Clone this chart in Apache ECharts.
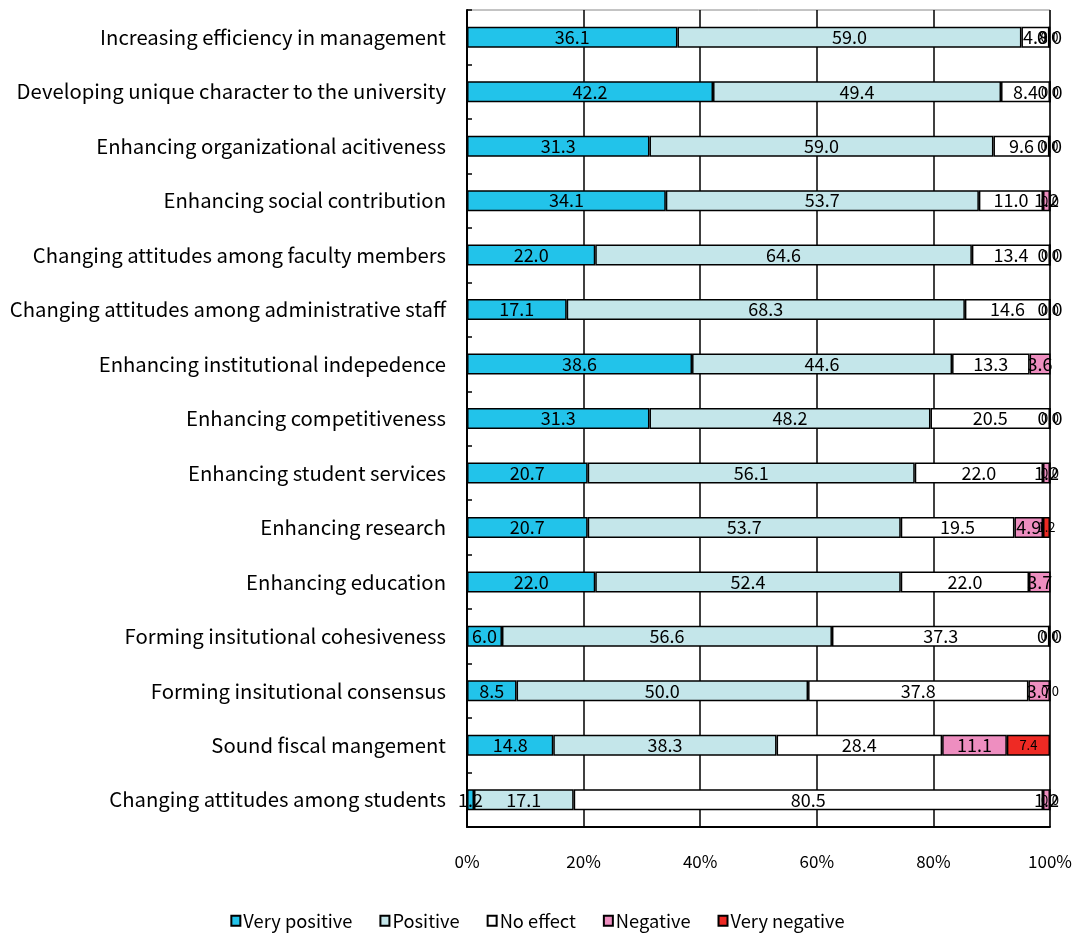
<!DOCTYPE html>
<html>
<head>
<meta charset="utf-8">
<script src="https://cdn.jsdelivr.net/npm/echarts@6/dist/echarts.min.js"></script>
<style>
  html, body { margin: 0; padding: 0; background: #fff; }
  #chart { width: 1075px; height: 933px; }
</style>
</head>
<body>
<div id="chart"></div>
<script>
// Survey items, listed top to bottom
const categories = [
  'Increasing efficiency in management',
  'Developing unique character to the university',
  'Enhancing organizational acitiveness',
  'Enhancing social contribution',
  'Changing attitudes among faculty members',
  'Changing attitudes among administrative staff',
  'Enhancing institutional indepedence',
  'Enhancing competitiveness',
  'Enhancing student services',
  'Enhancing research',
  'Enhancing education',
  'Forming insitutional cohesiveness',
  'Forming insitutional consensus',
  'Sound fiscal mangement',
  'Changing attitudes among students'
];

// Share of responses (%) per answer
const veryPositive = [36.1, 42.2, 31.3, 34.1, 22.0, 17.1, 38.6, 31.3, 20.7, 20.7, 22.0, 6.0, 8.5, 14.8, 1.2];
const positive     = [59.0, 49.4, 59.0, 53.7, 64.6, 68.3, 44.6, 48.2, 56.1, 53.7, 52.4, 56.6, 50.0, 38.3, 17.1];
const noEffect     = [4.8, 8.4, 9.6, 11.0, 13.4, 14.6, 13.3, 20.5, 22.0, 19.5, 22.0, 37.3, 37.8, 28.4, 80.5];
const negative     = [0.0, 0.0, 0.0, 1.2, 0.0, 0.0, 3.6, 0.0, 1.2, 4.9, 3.7, 0.0, 3.7, 11.1, 1.2];
const veryNegative = [0.0, 0.0, 0.0, 0.0, 0.0, 0.0, 0.0, 0.0, 0.0, 1.2, 0.0, 0.0, 0.0, 7.4, 0.0];

const xTicks = ['0%', '20%', '40%', '60%', '80%', '100%'];

const FONT = '"Noto Sans CJK JP", "Noto Sans", sans-serif';

function makeSeries(name, data, color, labelSize) {
  return {
    name: name,
    type: 'bar',
    stack: 'total',
    data: data,
    barWidth: 21,
    itemStyle: { color: color, borderColor: '#000', borderWidth: 1.5 },
    label: {
      show: true,
      position: 'inside',
      color: '#000',
      fontFamily: FONT,
      fontSize: labelSize,
      formatter: p => p.value.toFixed(1)
    },
    emphasis: { disabled: true }
  };
}

const chart = echarts.init(document.getElementById('chart'));
chart.setOption({
  animation: false,
  backgroundColor: '#fff',
  textStyle: { fontFamily: FONT },
  grid: { left: 467, right: 25, top: 10, bottom: 106, show: true, borderColor: '#888', borderWidth: 1 },
  legend: {
    bottom: -2,
    left: 'center',
    icon: 'rect',
    itemWidth: 9,
    itemHeight: 10,
    itemGap: 27,
    textStyle: { fontFamily: FONT, fontSize: 18.3, color: '#000', padding: [0, 0, 0, -2] },
    data: ['Very positive', 'Positive', 'No effect', 'Negative', 'Very negative']
  },
  xAxis: {
    type: 'value',
    min: 0,
    max: 100,
    interval: 20,
    axisLine: { show: true, lineStyle: { color: '#000', width: 2 } },
    axisTick: { show: false },
    splitLine: { show: true, lineStyle: { color: '#000', width: 1.5 } },
    axisLabel: {
      margin: 26,
      fontSize: 17,
      color: '#000',
      fontFamily: FONT,
      formatter: v => xTicks[Math.round(v / 20)]
    }
  },
  yAxis: {
    type: 'category',
    data: categories,
    inverse: true,
    axisLine: { show: true, lineStyle: { color: '#000', width: 2 } },
    axisTick: { show: true, inside: true, length: 5, lineStyle: { color: '#000', width: 1.5 } },
    axisLabel: { margin: 21, fontSize: 20.3, color: '#000', fontFamily: FONT },
    splitLine: { show: false }
  },
  series: [
    makeSeries('Very positive', veryPositive, '#22C3EA', 18),
    makeSeries('Positive', positive, '#C4E6EA', 18),
    makeSeries('No effect', noEffect, '#FFFFFF', 18),
    makeSeries('Negative', negative, '#EE8EC0', 18),
    makeSeries('Very negative', veryNegative, '#EE2A24', 13)
  ]
});
</script>
</body>
</html>
